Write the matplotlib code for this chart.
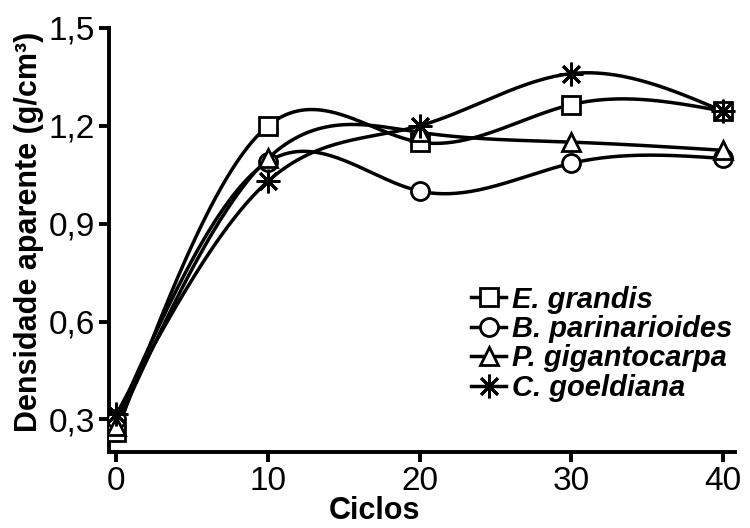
import numpy as np
import matplotlib
matplotlib.use('Agg')
import matplotlib.pyplot as plt
from matplotlib.ticker import FuncFormatter

ciclos = [0, 10, 20, 30, 40]
e_grandis = [0.26, 1.20, 1.15, 1.265, 1.245]
b_parinarioides = [0.30, 1.09, 1.00, 1.085, 1.10]
p_gigantocarpa = [0.28, 1.10, 1.18, 1.15, 1.125]
c_goeldiana = [0.315, 1.03, 1.20, 1.36, 1.245]

labels = ['E. grandis', 'B. parinarioides', 'P. gigantocarpa', 'C. goeldiana']
markers = ['s', 'o', '^', (8, 2, 0)]
series = [e_grandis, b_parinarioides, p_gigantocarpa, c_goeldiana]


def natural_spline(x, y, n=300):
    # spline cubico natural (curva suave entre os pontos)
    x = np.asarray(x, float)
    y = np.asarray(y, float)
    k = len(x)
    h = np.diff(x)
    A = np.zeros((k, k))
    b = np.zeros(k)
    A[0, 0] = 1
    A[-1, -1] = 1
    for i in range(1, k - 1):
        A[i, i - 1] = h[i - 1]
        A[i, i] = 2 * (h[i - 1] + h[i])
        A[i, i + 1] = h[i]
        b[i] = 6 * ((y[i + 1] - y[i]) / h[i] - (y[i] - y[i - 1]) / h[i - 1])
    M = np.linalg.solve(A, b)
    xs = np.linspace(x[0], x[-1], n)
    ys = np.empty_like(xs)
    for j, t in enumerate(xs):
        i = min(np.searchsorted(x, t, side='right') - 1, k - 2)
        a = x[i + 1] - t
        c = t - x[i]
        ys[j] = (M[i] * a ** 3 / (6 * h[i]) + M[i + 1] * c ** 3 / (6 * h[i])
                 + (y[i] / h[i] - M[i] * h[i] / 6) * a
                 + (y[i + 1] / h[i] - M[i + 1] * h[i] / 6) * c)
    return xs, ys


plt.rcParams['font.family'] = ['Liberation Sans', 'DejaVu Sans']

fig = plt.figure(figsize=(7.5, 5.28), dpi=100)
ax = fig.add_axes([0.145, 0.144, 0.835, 0.803])

for i in range(len(series)):
    xs, ys = natural_spline(ciclos, series[i])
    ax.plot(xs, ys, color='black', lw=2.5, zorder=2)
    ms = 13 if markers[i] != (8, 2, 0) else 17
    ax.plot(ciclos, series[i], linestyle='none', marker=markers[i], ms=ms,
            mfc='white', mec='black', mew=2, zorder=3)
    ax.plot([], [], color='black', lw=2.5, marker=markers[i], ms=ms,
            mfc='white', mec='black', mew=2, label=labels[i])

ax.set_xlim(-0.5, 40.8)
ax.set_ylim(0.2, 1.5)
ax.set_xticks([0, 10, 20, 30, 40])
ax.set_yticks([0.3, 0.6, 0.9, 1.2, 1.5])
ax.yaxis.set_major_formatter(FuncFormatter(lambda v, p: ('%.1f' % v).replace('.', ',')))

for s in ['top', 'right']:
    ax.spines[s].set_visible(False)
for s in ['left', 'bottom']:
    ax.spines[s].set_linewidth(2.8)
ax.tick_params(direction='out', length=7, width=2.8, pad=3, labelsize=24)

ax.set_xlabel('Ciclos', fontsize=22, fontweight='bold')
ax.set_ylabel('Densidade aparente (g/cm³)', fontsize=22, fontweight='bold')
ax.xaxis.set_label_coords(0.425, -0.105)
ax.yaxis.set_label_coords(-0.104, 0.52)

leg = ax.legend(loc='upper left', bbox_to_anchor=(0.56, 0.42), frameon=False,
                handlelength=1.2, handletextpad=0.2, labelspacing=0.05,
                borderaxespad=0,
                prop={'size': 21, 'weight': 'bold', 'style': 'italic'})

fig.savefig('out.png', dpi=100)
